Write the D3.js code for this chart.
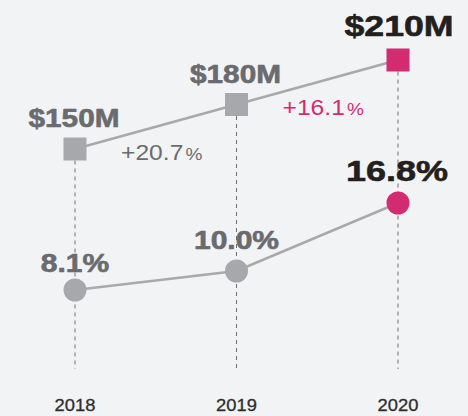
<!DOCTYPE html>
<html>
<head>
<meta charset="utf-8">
<script src="https://cdn.jsdelivr.net/npm/d3@7"></script>
<style>
html, body { margin: 0; padding: 0; background: #f2f3f5; }
svg { display: block; font-family: "Liberation Sans", Arial, sans-serif; }
</style>
</head>
<body>
<svg id="chart" width="468" height="416"></svg>
<script>
const years = ['2018', '2019', '2020']
const revenue = [150, 180, 210]
const margin = [8.1, 10.0, 16.8]
const growth = [20.7, 16.1]

const grey = '#a7a8ab', pink = '#d22b70', textGrey = '#6a6b6e', dark = '#231f20'
const svg = d3.select('#chart')
const x = d3.scalePoint().domain(years).range([75, 398])
const yRev = d3.scaleLinear().domain([150, 210]).range([149, 60])
const yMar = d3.scaleLinear().domain([8.1, 16.8]).range([290, 203])
const last = years.length - 1
const sq = 23

// dashed guides
svg.append('g').selectAll('line').data(years).enter().append('line')
  .attr('x1', d => x(d)).attr('x2', d => x(d))
  .attr('y1', (d, i) => yRev(revenue[i]) + sq / 2).attr('y2', 369)
  .attr('stroke', '#6f6f6f').attr('stroke-width', 1).attr('stroke-dasharray', '4,4')

const revLine = d3.line().x((d, i) => x(years[i])).y(d => yRev(d))
const marLine = d3.line().x((d, i) => x(years[i])).y(d => yMar(d))
svg.append('path').attr('d', revLine(revenue)).attr('fill', 'none').attr('stroke', '#a9a9ab').attr('stroke-width', 2.5)
svg.append('path').attr('d', marLine(margin)).attr('fill', 'none').attr('stroke', '#a9a9ab').attr('stroke-width', 2.5)

svg.append('g').selectAll('rect').data(revenue).enter().append('rect')
  .attr('x', (d, i) => x(years[i]) - sq / 2).attr('y', d => yRev(d) - sq / 2)
  .attr('width', sq).attr('height', sq)
  .attr('fill', (d, i) => i === last ? pink : grey)

svg.append('g').selectAll('circle').data(margin).enter().append('circle')
  .attr('cx', (d, i) => x(years[i])).attr('cy', d => yMar(d)).attr('r', 11.5)
  .attr('fill', (d, i) => i === last ? pink : grey)

// value labels (font is wide and heavy, stretch horizontally)
function wideText(sel, px, py, size, stretch) {
  sel.attr('transform', (d, i) => `translate(${px(d, i)},${py(d, i)}) scale(${stretch},1)`)
    .attr('text-anchor', 'middle').attr('font-weight', 'bold')
    .attr('font-size', (d, i) => size(d, i))
    .attr('stroke-width', 0.6).attr('stroke-linejoin', 'round')
}
svg.append('g').selectAll('text').data(revenue).enter().append('text')
  .text(d => '$' + d + 'M')
  .attr('fill', (d, i) => i === last ? dark : textGrey)
  .attr('stroke', (d, i) => i === last ? dark : textGrey)
  .call(wideText, (d, i) => x(years[i]) + (i === last ? 1 : -1), (d, i) => yRev(d) - (i === last ? 24 : 22),
    (d, i) => i === last ? 30 : 25, 1.19)

svg.append('g').selectAll('text').data(margin).enter().append('text')
  .text(d => d.toFixed(1) + '%')
  .attr('fill', (d, i) => i === last ? dark : textGrey)
  .attr('stroke', (d, i) => i === last ? dark : textGrey)
  .call(wideText, (d, i) => x(years[i]) + (i === last ? -1 : 0), (d, i) => yMar(d) - (i === 0 ? 18 : 22),
    (d, i) => i === last ? 30 : 25, 1.2)

// growth labels between points
const gl = svg.append('g').selectAll('text').data(growth).enter().append('text')
  .attr('transform', (d, i) => `translate(${(x(years[i]) + x(years[i + 1])) / 2 + 6},${(yRev(revenue[i]) + yRev(revenue[i + 1])) / 2 + 33}) scale(1.12,1)`)
  .attr('text-anchor', 'middle')
  .attr('fill', (d, i) => i === growth.length - 1 ? pink : textGrey)
gl.append('tspan').attr('font-size', 22).text(d => '+' + d.toFixed(1))
gl.append('tspan').attr('font-size', 17).attr('dx', 2).text('%')

// year labels
svg.append('g').selectAll('text').data(years).enter().append('text')
  .text(d => d)
  .attr('transform', d => `translate(${x(d)},411) scale(1.08,1)`)
  .attr('text-anchor', 'middle').attr('font-size', 17).attr('fill', '#2e2e2e')
  .attr('stroke', '#2e2e2e').attr('stroke-width', 0.3)
</script>
</body>
</html>
